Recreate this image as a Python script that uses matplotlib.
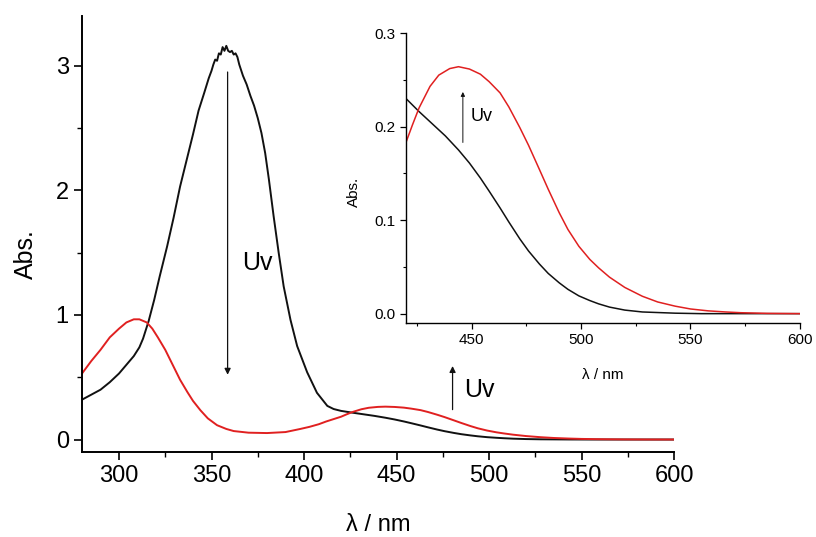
import numpy as np
import matplotlib
matplotlib.use("Agg")
import matplotlib.pyplot as plt
from matplotlib.ticker import MultipleLocator

plt.rcParams["font.family"] = ["Liberation Sans", "DejaVu Sans"]

# before irradiation (black)
wl_before = [280, 285, 290, 295, 300, 304, 308, 311, 313, 316, 319, 322, 326, 329.5,
             333, 337, 340, 343, 346, 348.5, 350, 351, 352, 353, 354, 355, 356, 357,
             358, 359, 360, 361, 362, 363, 364, 365, 367, 369, 371, 373, 375, 377,
             379, 381, 383.6, 386.3, 389, 392.7, 396.3, 401.7, 407, 412.6, 416, 420,
             426, 432, 438, 444, 449, 454, 458, 463, 467, 472, 476, 481, 485, 490,
             494, 499, 504, 508, 513, 520, 528, 543, 555, 570, 585, 600]
abs_before = [0.32, 0.36, 0.40, 0.46, 0.53, 0.60, 0.67, 0.74, 0.81, 0.95, 1.12, 1.31,
              1.55, 1.78, 2.03, 2.27, 2.45, 2.64, 2.78, 2.90, 2.96, 3.01, 3.05, 3.04,
              3.10, 3.09, 3.15, 3.12, 3.16, 3.12, 3.11, 3.12, 3.09, 3.10, 3.07, 3.01,
              2.92, 2.85, 2.76, 2.68, 2.58, 2.46, 2.30, 2.09, 1.79, 1.50, 1.23, 0.96,
              0.75, 0.54, 0.375, 0.27, 0.245, 0.230, 0.216, 0.203, 0.190, 0.175, 0.161,
              0.145, 0.131, 0.113, 0.098, 0.080, 0.067, 0.053, 0.043, 0.033, 0.026,
              0.019, 0.014, 0.0105, 0.007, 0.0038, 0.0018, 0.0005, 0.0, 0.0, 0.0, 0.0]

# after UV irradiation (red)
wl_after = [280, 285, 290, 295, 300, 304, 308, 311, 315, 318, 321, 325, 329, 333, 337,
            340, 344, 348, 353, 358, 362, 370, 380, 390, 398, 403, 408, 412, 416, 420,
            423, 426, 431, 435, 440, 444, 449, 454, 458, 463, 467, 472, 476, 481, 485,
            490, 494, 499, 504, 508, 513, 520, 528, 535, 543, 550, 558, 566, 573, 585,
            600]
abs_after = [0.53, 0.63, 0.72, 0.82, 0.89, 0.94, 0.965, 0.965, 0.94, 0.89, 0.82, 0.72,
             0.60, 0.48, 0.38, 0.31, 0.235, 0.17, 0.115, 0.085, 0.068, 0.055, 0.052,
             0.060, 0.085, 0.102, 0.123, 0.145, 0.164, 0.183, 0.202, 0.220, 0.243,
             0.255, 0.262, 0.264, 0.2615, 0.256, 0.248, 0.236, 0.221, 0.199, 0.180,
             0.154, 0.133, 0.108, 0.090, 0.072, 0.058, 0.049, 0.039, 0.028, 0.0186,
             0.0125, 0.008, 0.005, 0.003, 0.0018, 0.001, 0.0003, 0.0]

BLACK = "#111111"
RED = "#e02020"

fig = plt.figure(figsize=(8.16, 5.37), dpi=100)

# ── main axes ──
ax = fig.add_axes([0.1005, 0.1583, 0.7255, 0.812])
ax.plot(wl_before, abs_before, color=BLACK, lw=1.4)
ax.plot(wl_after, abs_after, color=RED, lw=1.4)
ax.set_xlim(280, 600)
ax.set_ylim(-0.1, 3.4)
ax.spines["top"].set_visible(False)
ax.spines["right"].set_visible(False)
for s in ("left", "bottom"):
    ax.spines[s].set_linewidth(1.4)
ax.xaxis.set_major_locator(MultipleLocator(50))
ax.xaxis.set_minor_locator(MultipleLocator(25))
ax.yaxis.set_major_locator(MultipleLocator(1))
ax.yaxis.set_minor_locator(MultipleLocator(0.5))
ax.tick_params(which="major", direction="out", length=6, width=1.2, labelsize=17)
ax.tick_params(which="minor", direction="out", length=3.5, width=1.0)
ax.set_xlabel("λ / nm", fontsize=17)
ax.set_ylabel("Abs.", fontsize=18)
ax.xaxis.set_label_coords(0.5, -0.142)
ax.yaxis.set_label_coords(-0.075, 0.455)

arrow = dict(arrowstyle="-|>", color=BLACK, lw=0.9, mutation_scale=9,
             shrinkA=0, shrinkB=0)
ax.annotate("", xy=(358.7, 0.52), xytext=(358.7, 2.95), arrowprops=arrow)
ax.text(366.5, 1.42, "Uv", fontsize=18, va="center", ha="left")
ax.annotate("", xy=(480.3, 0.59), xytext=(480.3, 0.24), arrowprops=arrow)
ax.text(486.5, 0.40, "Uv", fontsize=18, va="center", ha="left")

# ── inset ──
ins = fig.add_axes([0.4975, 0.3985, 0.4828, 0.540])
ins.plot(wl_before, abs_before, color=BLACK, lw=1.1)
ins.plot(wl_after, abs_after, color=RED, lw=1.1)
ins.set_xlim(420, 600)
ins.set_ylim(-0.01, 0.3)
ins.spines["top"].set_visible(False)
ins.spines["right"].set_visible(False)
for s in ("left", "bottom"):
    ins.spines[s].set_linewidth(1.0)
ins.xaxis.set_major_locator(MultipleLocator(50))
ins.xaxis.set_minor_locator(MultipleLocator(25))
ins.yaxis.set_major_locator(MultipleLocator(0.1))
ins.yaxis.set_minor_locator(MultipleLocator(0.05))
ins.tick_params(which="major", direction="out", length=4, width=0.9, labelsize=11)
ins.tick_params(which="minor", direction="out", length=2.5, width=0.8)
ins.set_xlabel("λ / nm", fontsize=11)
ins.set_ylabel("Abs.", fontsize=11)
ins.xaxis.set_label_coords(0.5, -0.155)
ins.yaxis.set_label_coords(-0.113, 0.452)

ins.annotate("", xy=(446, 0.237), xytext=(446, 0.183),
             arrowprops=dict(arrowstyle="-|>", color=BLACK, lw=0.7,
                             mutation_scale=6, shrinkA=0, shrinkB=0))
ins.text(449.5, 0.211, "Uv", fontsize=13, va="center", ha="left")

fig.savefig("out.png", dpi=100)
